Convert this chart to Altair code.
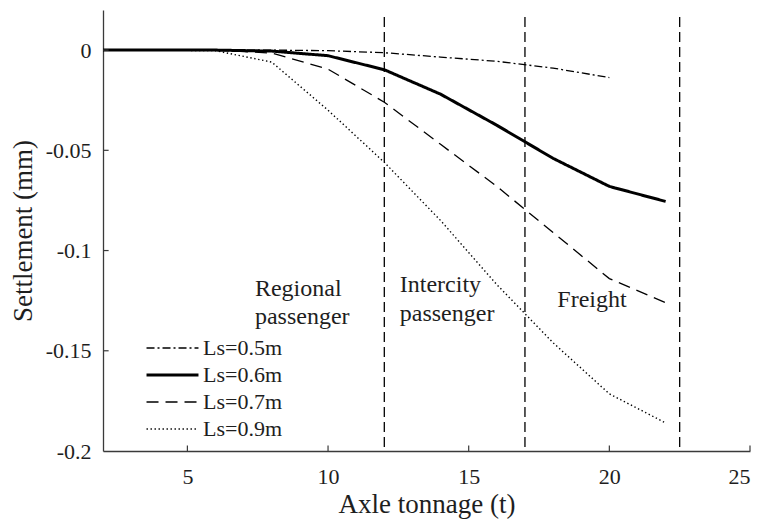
import altair as alt
import pandas as pd

# Axle tonnage (t) sampled along each curve
tonnage = [2, 4, 6, 8, 10, 12, 14, 16, 18, 20, 22]

# Settlement (mm) for each sleeper spacing Ls
settle_05 = [0, 0, 0, 0, -0.0003, -0.0013, -0.0035, -0.0056, -0.009, -0.0137]
settle_06 = [0, 0, 0, -0.0005, -0.0028, -0.0098, -0.022, -0.0375, -0.054, -0.068, -0.0755]
settle_07 = [0, 0, 0, -0.0015, -0.0095, -0.026, -0.047, -0.068, -0.091, -0.114, -0.126]
settle_09 = [0, 0, -0.0003, -0.006, -0.030, -0.056, -0.085, -0.117, -0.146, -0.1715, -0.186]

series_names = ["Ls=0.5m", "Ls=0.6m", "Ls=0.7m", "Ls=0.9m"]
series_values = [settle_05, settle_06, settle_07, settle_09]

# Traffic-class boundaries (t)
boundaries = [12, 17, 22.5]

# Region labels
label_text = ["Regional", "passenger", "Intercity", "passenger", "Freight"]
label_x = [7.4, 7.4, 12.55, 12.55, 18.15]
label_y = [-0.1225, -0.1365, -0.1208, -0.135, -0.1283]

x_ticks = [5, 10, 15, 20, 25]
y_ticks = [0, -0.05, -0.1, -0.15, -0.2]

X_DOMAIN = [2, 25]
Y_DOMAIN = [-0.2, 0.02]
FONT = "Liberation Serif"
INK = "#1e1e1e"
AXIS_INK = "#3a3a3a"

rows = []
for name, vals in zip(series_names, series_values):
    for t, s in zip(tonnage, vals):
        rows.append({"t": t, "s": s, "series": name})
curves = pd.DataFrame(rows)

xs = alt.Scale(domain=X_DOMAIN, nice=False, zero=False)
ys = alt.Scale(domain=Y_DOMAIN, nice=False, zero=False)

legend = alt.Legend(
    title=None,
    orient="none",
    legendX=42,
    legendY=327,
    symbolType="stroke",
    symbolSize=2700,
    symbolStrokeColor="black",
    labelFont=FONT,
    labelFontSize=22,
    labelColor=INK,
    labelOffset=3,
    clipHeight=22,
    rowPadding=5,
    padding=0,
)

lines = alt.Chart(curves).mark_line(color="black", strokeCap="butt").encode(
    x=alt.X("t:Q", scale=xs,
            axis=alt.Axis(values=x_ticks, title="Axle tonnage (t)",
                          labelPadding=15, titlePadding=4)),
    y=alt.Y("s:Q", scale=ys,
            axis=alt.Axis(values=y_ticks, title="Settlement (mm)",
                          labelExpr="'' + datum.value", titlePadding=8)),
    strokeDash=alt.StrokeDash(
        "series:N",
        scale=alt.Scale(domain=series_names,
                        range=[[8, 3, 2, 3], [1, 0], [12, 7], [1.4, 2.6]]),
        legend=legend,
    ),
    strokeWidth=alt.StrokeWidth(
        "series:N",
        scale=alt.Scale(type="ordinal", domain=series_names, range=[1.3, 3, 1.3, 1.4]),
        legend=legend,
    ),
    detail="series:N",
)

vlines = alt.Chart(pd.DataFrame({"b": boundaries})).mark_rule(
    color="black", strokeWidth=1.3, strokeDash=[10, 5]
).encode(
    x=alt.X("b:Q", scale=xs),
    y=alt.datum(0.0165, scale=ys),
    y2=alt.datum(-0.2),
)

# inward tick marks on both axes
xtick_marks = alt.Chart(pd.DataFrame({"v": x_ticks})).mark_rule(
    color=AXIS_INK, strokeWidth=1.2
).encode(
    x=alt.X("v:Q", scale=xs),
    y=alt.datum(-0.2, scale=ys),
    y2=alt.datum(-0.2 + 0.0028),
)
ytick_marks = alt.Chart(pd.DataFrame({"v": y_ticks[:-1]})).mark_rule(
    color=AXIS_INK, strokeWidth=1.2
).encode(
    y=alt.Y("v:Q", scale=ys),
    x=alt.datum(2, scale=xs),
    x2=alt.datum(2.2),
)

labels = alt.Chart(pd.DataFrame({"x": label_x, "y": label_y, "txt": label_text})).mark_text(
    align="left", baseline="alphabetic", font=FONT, fontSize=24, color=INK
).encode(
    x=alt.X("x:Q", scale=xs),
    y=alt.Y("y:Q", scale=ys),
    text="txt:N",
)

chart = (
    alt.layer(vlines, lines, xtick_marks, ytick_marks, labels)
    .properties(
        width=647,
        height=441,
        padding={"left": 103, "top": 10, "right": 13, "bottom": 70},
        autosize=alt.AutoSizeParams(type="none"),
        background="white",
    )
    .configure_view(stroke=None)
    .configure_axis(
        grid=False,
        ticks=False,
        domainColor=AXIS_INK,
        domainWidth=1.3,
        labelFont=FONT,
        labelFontSize=22,
        labelColor=INK,
        labelPadding=12,
        titleFont=FONT,
        titleFontSize=27,
        titleFontWeight="normal",
        titleColor=INK,
    )
)

chart.save("out.html", embed_options={"renderer": "svg", "actions": False})
